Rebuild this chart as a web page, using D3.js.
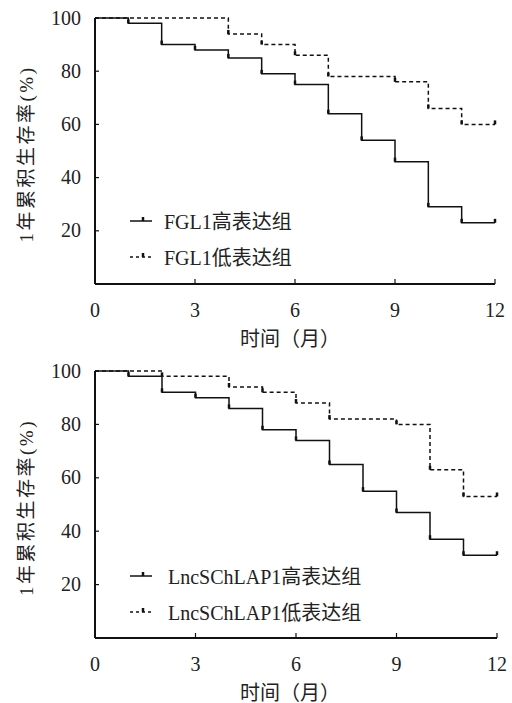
<!DOCTYPE html>
<html>
<head>
<meta charset="utf-8">
<script src="https://cdn.jsdelivr.net/npm/d3@7"></script>
<style>
  body { margin: 0; background: #fff; }
  svg { display: block; }
  text { font-family: "Liberation Serif", "DejaVu Serif", "Noto Sans CJK SC", serif; fill: #222; }
</style>
</head>
<body>
<div id="chart"></div>
<script>
// step times (months) and survival (%) after each step
const months = [0, 1, 2, 3, 4, 5, 6, 7, 8, 9, 10, 11, 12];
const xTicks = [0, 3, 6, 9, 12];
const yTicks = [20, 40, 60, 80, 100];

const fglHigh = [100, 98, 90, 88, 85, 79, 75, 64, 54, 46, 29, 23, 23];
const fglLow  = [100, 100, 100, 100, 94, 90, 86, 78, 78, 76, 66, 60, 60];
const lncHigh = [100, 98, 92, 90, 86, 78, 74, 65, 55, 47, 37, 31, 31];
const lncLow  = [100, 100, 98, 98, 94, 92, 88, 82, 82, 80, 63, 53, 53];

const fglNames = ["FGL1高表达组", "FGL1低表达组"];
const lncNames = ["LncSChLAP1高表达组", "LncSChLAP1低表达组"];

const yTitle = "1年累积生存率(%)";
const xTitle = "时间（月）";

const width = 512, height = 703;

const svg = d3.select('#chart')
    .append('svg')
    .attr('width', width)
    .attr('height', height);

function drawPanel(top, bottom, right, high, low, names, legendX, legendY) {
    const left = 95;
    const g = svg.append('g');

    const x = d3.scaleLinear().domain([0, 12]).range([left, right]);
    const y = d3.scaleLinear().domain([0, 100]).range([bottom, top]);

    // axes lines
    g.append('line')
        .attr('x1', left).attr('x2', left)
        .attr('y1', y(100)).attr('y2', bottom)
        .attr('stroke', '#111').attr('stroke-width', 2);
    g.append('line')
        .attr('x1', left).attr('x2', right)
        .attr('y1', bottom).attr('y2', bottom)
        .attr('stroke', '#111').attr('stroke-width', 2);

    // y ticks (inside)
    g.selectAll('line.yt')
        .data(yTicks)
        .enter().append('line')
        .attr('x1', left).attr('x2', left + 4)
        .attr('y1', d => y(d)).attr('y2', d => y(d))
        .attr('stroke', '#111').attr('stroke-width', 1.2);
    g.selectAll('text.yl')
        .data(yTicks)
        .enter().append('text')
        .attr('x', left - 14)
        .attr('y', d => y(d) + 6.5)
        .attr('text-anchor', 'end')
        .attr('font-size', 20)
        .text(d => d);

    // x ticks (inside)
    g.selectAll('line.xt')
        .data(xTicks)
        .enter().append('line')
        .attr('x1', d => x(d)).attr('x2', d => x(d))
        .attr('y1', bottom).attr('y2', bottom - 5)
        .attr('stroke', '#111').attr('stroke-width', 1.2);
    g.selectAll('text.xl')
        .data(xTicks)
        .enter().append('text')
        .attr('x', d => x(d))
        .attr('y', bottom + 33)
        .attr('text-anchor', 'middle')
        .attr('font-size', 20)
        .text(d => d);

    // titles
    g.append('text')
        .attr('x', 290)
        .attr('y', bottom + 62)
        .attr('text-anchor', 'middle')
        .attr('font-size', 20)
        .text(xTitle);
    g.append('text')
        .attr('transform', `translate(33,${(top + bottom) / 2 + 3}) rotate(-90)`)
        .attr('text-anchor', 'middle')
        .attr('font-size', 19)
        .attr('letter-spacing', 2.5)
        .text(yTitle);

    const line = d3.line()
        .x(d => x(d[0]))
        .y(d => y(d[1]))
        .curve(d3.curveStepAfter);

    const series = [
        { vals: high, dash: null },
        { vals: low, dash: '4,3' }
    ];

    series.forEach(s => {
        const pts = months.map((m, i) => [m, s.vals[i]]);
        g.append('path')
            .attr('d', line(pts))
            .attr('fill', 'none')
            .attr('stroke', '#111')
            .attr('stroke-width', 1.5)
            .attr('stroke-dasharray', s.dash);

        // censor marks at each drop and at the end
        const marks = pts.filter((p, i) => i > 0 && (p[1] !== s.vals[i - 1] || i === pts.length - 1));
        g.selectAll(null)
            .data(marks)
            .enter().append('line')
            .attr('x1', d => x(d[0])).attr('x2', d => x(d[0]))
            .attr('y1', d => y(d[1])).attr('y2', d => y(d[1]) - 4)
            .attr('stroke', '#111').attr('stroke-width', 2.5);
    });

    // legend
    names.forEach((name, i) => {
        const ly = legendY + i * 36;
        g.append('line')
            .attr('x1', 130).attr('x2', 152)
            .attr('y1', ly).attr('y2', ly)
            .attr('stroke', '#111').attr('stroke-width', 1.5)
            .attr('stroke-dasharray', i === 0 ? null : '3,3');
        g.append('line')
            .attr('x1', 143).attr('x2', 143)
            .attr('y1', ly).attr('y2', ly - 4)
            .attr('stroke', '#111').attr('stroke-width', 2.5);
        g.append('text')
            .attr('x', legendX)
            .attr('y', ly + 8)
            .attr('font-size', 20)
            .text(name);
    });
}

drawPanel(18, 284, 495, fglHigh, fglLow, fglNames, 164, 221);
drawPanel(371, 638, 497, lncHigh, lncLow, lncNames, 168, 576);
</script>
</body>
</html>
